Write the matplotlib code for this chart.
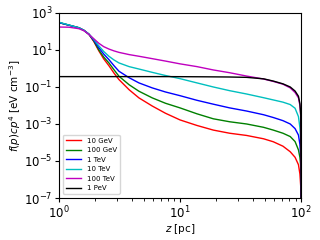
import numpy as np
import matplotlib
matplotlib.use("Agg")
import matplotlib.pyplot as plt

# log10(z [pc]) and log10(f(p) c p^4)
z_grid = [0, 0.083, 0.165, 0.207, 0.248, 0.289, 0.33, 0.37, 0.413, 0.455, 0.496, 0.58, 0.661, 0.771,
          0.88, 1.0, 1.14, 1.275, 1.41, 1.55, 1.69, 1.77, 1.85, 1.91, 1.95, 1.978, 1.99, 1.997, 2.0]

f_red = [2.48, 2.34, 2.2, 2.06, 1.85, 1.45, 0.95, 0.52, 0.15, -0.25, -0.6, -1.15, -1.59, -2.03,
         -2.42, -2.78, -3.08, -3.33, -3.5, -3.62, -3.8, -3.96, -4.2, -4.5, -4.8, -5.2, -5.7, -6.4, -9]
f_green = [2.48, 2.34, 2.2, 2.06, 1.85, 1.48, 1.0, 0.62, 0.3, -0.07, -0.42, -0.88, -1.23, -1.59,
           -1.88, -2.13, -2.45, -2.72, -2.88, -3.0, -3.18, -3.33, -3.5, -3.68, -3.95, -4.4, -4.8, -5.3, -9]
f_blue = [2.48, 2.34, 2.2, 2.06, 1.85, 1.52, 1.12, 0.78, 0.48, 0.15, -0.15, -0.5, -0.78, -1.05,
          -1.27, -1.47, -1.72, -1.93, -2.13, -2.3, -2.5, -2.65, -2.82, -3.0, -3.25, -3.6, -4.1, -4.8, -9]
f_cyan = [2.5, 2.35, 2.2, 2.06, 1.86, 1.57, 1.22, 0.92, 0.66, 0.46, 0.3, 0.1, -0.03, -0.21,
          -0.38, -0.55, -0.78, -1.0, -1.2, -1.38, -1.58, -1.7, -1.82, -1.95, -2.15, -2.6, -3.2, -3.9, -9]
f_mag = [2.24, 2.23, 2.15, 2.04, 1.84, 1.6, 1.36, 1.18, 1.05, 0.95, 0.87, 0.75, 0.66, 0.53,
         0.4, 0.25, 0.1, -0.08, -0.23, -0.41, -0.57, -0.7, -0.85, -1.05, -1.3, -1.59, -2.0, -2.6, -9]

z_black = [0, 0.3, 0.6, 0.9, 1.2, 1.4, 1.55, 1.69, 1.77, 1.85, 1.91, 1.95, 1.978, 1.99, 1.997, 2.0]
f_black = [-0.44, -0.44, -0.44, -0.44, -0.45, -0.46, -0.48, -0.56, -0.68, -0.83, -1.0, -1.22, -1.5, -1.9, -2.5, -9]

labels = ["10 GeV", "100 GeV", "1 TeV", "10 TeV", "100 TeV", "1 PeV"]
colors = ["r", "g", "b", "c", "m", "k"]
series = [(z_grid, f_red), (z_grid, f_green), (z_grid, f_blue),
          (z_grid, f_cyan), (z_grid, f_mag), (z_black, f_black)]

fig = plt.figure(figsize=(3.2, 2.4), dpi=100)
ax = fig.add_axes([0.184, 0.175, 0.757, 0.771])

for (lz, lf), c, lab in zip(series, colors, labels):
    ax.plot(10 ** np.array(lz), 10 ** np.array(lf), color=c, lw=1, label=lab)

ax.set_xscale("log")
ax.set_yscale("log")
ax.set_xlim(1, 100)
ax.set_ylim(1e-7, 1e3)
ax.set_yticks([1e-7, 1e-5, 1e-3, 1e-1, 1e1, 1e3])
ax.yaxis.set_minor_locator(matplotlib.ticker.NullLocator())
ax.tick_params(labelsize=8.5, pad=1.5, length=3)
ax.tick_params(which="minor", length=2)
ax.set_xlabel("$z$ [pc]", fontsize=7.5, labelpad=0.5)
ax.set_ylabel("$f(p)cp^4$ [eV cm$^{-3}$]", fontsize=7.5, labelpad=1)
ax.legend(loc="lower left", fontsize=5, handlelength=2.2, borderaxespad=0.6)

fig.savefig("out.png", dpi=100)
